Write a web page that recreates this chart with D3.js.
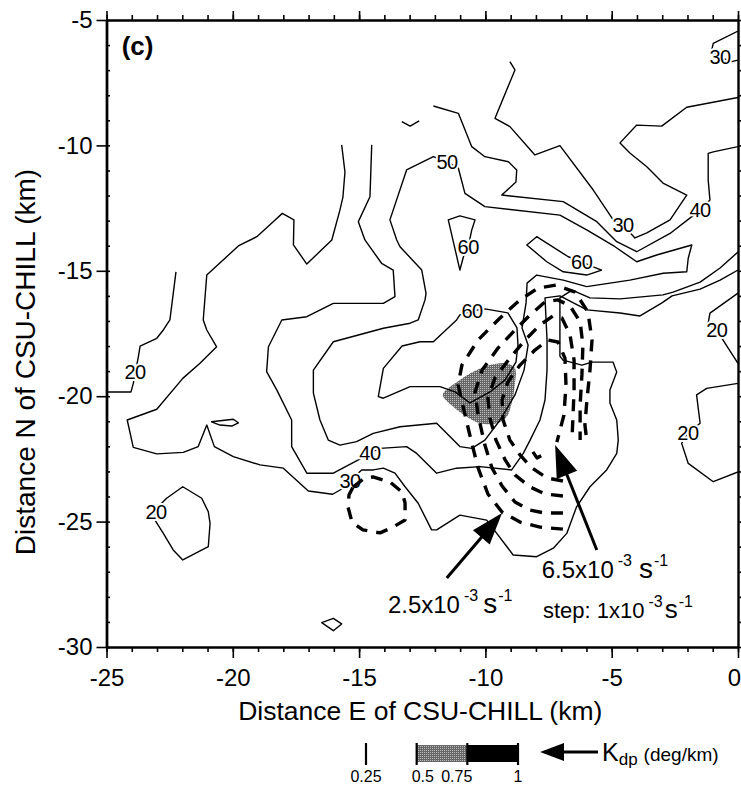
<!DOCTYPE html>
<html>
<head>
<meta charset="utf-8">
<script src="https://cdn.jsdelivr.net/npm/d3@7"></script>
<style>
  body { margin: 0; background: #fff; }
  svg { display: block; font-family: "Liberation Sans", Arial, Helvetica, sans-serif; }
</style>
</head>
<body>
<svg id="chart" width="741" height="786"></svg>
<script>
// ---------- axis ticks (km) ----------
const xTickValues = [-25, -20, -15, -10, -5, 0];
const xTickLabels = ["-25", "-20", "-15", "-10", "-5", "0"];
const yTickValues = [-30, -25, -20, -15, -10, -5];
const yTickLabels = ["-30", "-25", "-20", "-15", "-10", "-5"];
const xMinorTicks = d3.range(-25, 1, 1);
const yMinorTicks = d3.range(-30, -4, 1);

// ---------- reflectivity contours (dBZ), vertices in km E / km N ----------
const dbz20West = [[-25,-19.83],[-24.03,-19.83],[-23.94,-19.49],[-23.74,-18.43],[-23.67,-18.0],[-23.01,-17.69],[-22.75,-17.36],[-22.49,-16.96],[-22.25,-15.04]];
const dbz20South = [[-22.62,-24.07],[-21.98,-23.61],[-21.23,-24.07],[-20.97,-24.61],[-20.90,-25.07],[-20.97,-26.0],[-21.98,-26.53],[-22.36,-26.13],[-22.75,-25.47],[-23.08,-24.94],[-23.04,-24.5]];
const dbz20Cell = [[-20.84,-21.02],[-19.98,-20.92],[-19.78,-21.06],[-20.04,-21.19],[-20.51,-21.15]];
const dbz20Speck = [[-16.48,-29.03],[-16.02,-28.86],[-15.69,-29.08],[-16.02,-29.35]];
const dbzFragment = [[-13.31,-9.05],[-12.98,-9.23],[-12.62,-9.02]];
const dbz20EastA = [[0,-15.89],[-1.11,-16.69],[-1.18,-17.09],[-0.84,-17.36],[-0.51,-17.89],[0,-18.69]];
const dbz20EastB = [[0,-19.49],[-1.24,-19.69],[-1.64,-19.95],[-1.50,-21.08],[-1.98,-21.47],[-2.23,-21.88],[-1.97,-22.68],[-0.98,-23.41],[0,-23.02]];

const dbz30Main = [[-15.69,-9.98],[-15.56,-11.06],[-15.64,-12.06],[-15.76,-12.58],[-16.08,-13.77],[-17.07,-14.73],[-17.60,-13.97],[-17.58,-12.97],[-18.04,-12.71],[-18.40,-13.04],[-19.05,-13.64],[-19.78,-14.01],[-21.03,-15.17],[-21.17,-16.96],[-21.03,-17.36],[-20.64,-18.03],[-21.30,-18.69],[-21.98,-19.29],[-23.01,-20.52],[-24.18,-20.95],[-23.94,-22.04],[-23.01,-22.30],[-21.96,-22.24],[-21.37,-22.01],[-21.03,-21.15],[-20.73,-22.01],[-19.98,-22.41],[-18.92,-22.74],[-18.00,-22.87],[-17.01,-23.78],[-16.05,-23.91],[-15.63,-23.67],[-15.36,-23.38],[-14.90,-22.94],[-14.44,-22.94],[-14.04,-22.87],[-13.58,-23.07],[-13.18,-23.61],[-12.66,-24.27],[-12.13,-25.33],[-11.93,-25.33],[-11.01,-24.74],[-9.95,-24.94],[-9.55,-25.47],[-8.90,-26.33],[-7.97,-26.40],[-7.31,-26.06],[-6.78,-25.47],[-6.39,-24.41],[-5.86,-23.61],[-5.20,-22.94],[-4.80,-22.28],[-4.74,-21.75],[-4.80,-20.95],[-5.07,-20.27],[-5.07,-19.75],[-4.80,-19.04],[-4.95,-18.64],[-5.78,-18.64],[-6.18,-18.76],[-6.93,-18.56],[-7.05,-18.40],[-7.05,-16.08],[-6.57,-15.77],[-5.86,-16.08],[-4.67,-16.12],[-2.97,-15.96],[-2.57,-15.85],[-1.50,-15.45],[-0.71,-14.89],[0,-14.25]];
const dbz30North = [[-9.03,-6.66],[-8.83,-6.99],[-9.62,-8.92],[-9.03,-9.25],[-8.04,-10.38],[-7.05,-10.01],[-5.73,-11.78],[-4.94,-12.97],[-4.55,-13.17],[-4.08,-13.69],[-3.61,-13.49],[-2.69,-12.97],[-2.03,-11.98],[-2.97,-11.50],[-3.61,-10.85],[-4.28,-10.30],[-4.67,-9.90],[-4.01,-9.19],[-3.02,-9.23],[-2.03,-8.48],[0,-8.09]];
const dbz30Corner = [[0,-5.44],[-0.98,-5.93],[-1.04,-6.20],[-0.71,-6.48],[-0.25,-6.66],[0,-6.60]];

const dbz40West = [[-14.50,-9.98],[-14.57,-12.05],[-15.03,-13.04],[-14.77,-13.77],[-14.11,-14.70],[-13.65,-14.97],[-13.58,-16.03],[-14.04,-16.30],[-16.02,-16.30],[-17.07,-16.83],[-18.06,-16.96],[-18.59,-18.03],[-18.66,-19.02],[-18.26,-19.75],[-17.67,-20.95],[-17.67,-22.01],[-17.07,-23.07],[-16.02,-23.07],[-15.03,-22.54],[-14.57,-22.26],[-14.17,-22.08],[-13.12,-22.01],[-12.72,-22.28],[-11.93,-23.07],[-11.14,-22.87],[-10.21,-22.81],[-8.96,-22.94],[-8.50,-22.28],[-8.23,-21.75],[-7.84,-20.95],[-7.64,-20.15],[-7.56,-18.96],[-7.56,-17.76],[-7.64,-16.08],[-7.05,-16.00],[-5.98,-16.56],[-4.67,-16.68],[-3.88,-16.80],[-3.01,-16.28],[-2.61,-16.00],[-1.50,-15.73],[-0.71,-15.37],[0,-14.97]];
const dbz40North = [[-12.06,-8.43],[-11.07,-8.72],[-10.54,-10.05],[-10.02,-10.45],[-9.09,-10.65],[-8.76,-10.98],[-8.79,-11.46],[-9.35,-11.98],[-6.92,-12.24],[-5.59,-13.04],[-4.80,-13.84],[-4.01,-14.24],[-2.69,-13.51],[-1.83,-12.84],[-1.50,-12.58],[-1.11,-12.18],[-1.18,-11.38],[-1.18,-10.32],[-0.98,-10.26],[0,-10.05]];

const dbz50Ring = [[-11.07,-10.91],[-10.81,-11.91],[-10.02,-12.44],[-7.05,-12.78],[-5.99,-13.37],[-4.87,-14.04],[-4.01,-14.64],[-3.22,-14.37],[-1.83,-13.97],[-1.97,-14.50],[-2.03,-15.04],[-2.96,-15.10],[-4.28,-15.37],[-5.99,-15.63],[-6.92,-15.37],[-7.97,-15.17],[-8.35,-15.49],[-8.39,-16.28],[-8.55,-17.28],[-8.31,-17.96],[-8.47,-18.96],[-8.83,-19.95],[-9.42,-20.95],[-10.02,-21.75],[-10.54,-22.08],[-11.01,-22.01],[-11.93,-21.08],[-13.38,-21.22],[-14.44,-21.48],[-15.10,-21.81],[-15.76,-21.95],[-16.22,-21.75],[-16.55,-20.95],[-16.81,-19.88],[-16.81,-18.96],[-16.02,-17.83],[-14.04,-17.29],[-12.98,-17.09],[-12.66,-16.96],[-12.39,-16.16],[-12.35,-15.90],[-12.52,-14.97],[-13.38,-14.04],[-13.51,-13.77],[-13.78,-12.97],[-13.12,-10.98],[-12.06,-10.45],[-11.52,-10.66]];

const dbz60North = [[-11.47,-12.97],[-11.01,-12.81],[-10.41,-12.97],[-10.54,-13.37],[-10.68,-14.04],[-10.87,-14.44],[-11.01,-14.97]];
const dbz60Band = [[-8.36,-13.97],[-7.97,-13.64],[-6.72,-14.44],[-6.19,-14.64],[-5.73,-14.84],[-5.40,-14.97],[-5.99,-15.17],[-6.92,-15.04],[-7.57,-14.64]];
const dbz60Core = [[-13.30,-18.00],[-12.59,-17.83],[-12.06,-17.83],[-11.14,-16.96],[-11.01,-16.76],[-10.53,-16.60],[-10.02,-16.52],[-9.11,-16.68],[-8.75,-17.28],[-8.71,-17.96],[-8.79,-18.64],[-9.22,-19.35],[-9.82,-19.83],[-10.61,-20.27],[-11.20,-19.83],[-11.80,-19.62],[-12.98,-19.62],[-14.04,-20.08],[-14.24,-20.02],[-14.04,-18.89]];

// contour labels: value and position (km)
const contourLabelText = ["20","20","30","40","50","60","60","60","30","40","30","20","20"];
const contourLabelX = [-23.87,-23.04,-15.36,-14.57,-11.52,-10.68,-6.19,-10.53,-4.55,-1.50,-0.71,-0.84,-1.98];
const contourLabelY = [-19.04,-24.61,-23.38,-22.26,-10.66,-14.04,-14.64,-16.60,-13.17,-12.58,-6.48,-17.36,-21.47];

// ---------- horizontal shear contours (1e-3 s^-1), 2.5 .. 6.5 step 1 ----------
const shear25Loop = [[-15.24,-23.62],[-14.77,-23.26],[-14.45,-23.22],[-13.78,-23.42],[-13.30,-23.82],[-13.18,-24.26],[-13.18,-24.94],[-13.66,-25.22],[-14.17,-25.45],[-14.85,-25.33],[-15.28,-25.02],[-15.44,-24.42],[-15.40,-23.94]];
const shear25 = [[-6.93,-25.30],[-7.84,-25.22],[-8.63,-25.02],[-9.34,-24.62],[-9.90,-23.90],[-10.29,-22.86],[-10.57,-21.75],[-10.85,-20.55],[-11.08,-19.55],[-10.93,-18.76],[-10.29,-17.76],[-9.42,-16.88],[-8.63,-16.16],[-7.92,-15.69],[-7.21,-15.57],[-6.45,-15.85],[-5.94,-16.64],[-5.78,-17.76],[-5.86,-18.96],[-5.98,-20.15],[-6.06,-21.15],[-5.98,-21.83]];
const shear35 = [[-6.93,-24.66],[-7.64,-24.66],[-8.23,-24.54],[-8.83,-24.22],[-9.34,-23.58],[-9.74,-22.86],[-10.02,-21.95],[-10.29,-20.75],[-10.41,-19.83],[-10.13,-18.96],[-9.50,-18.08],[-8.83,-17.36],[-8.23,-16.76],[-7.64,-16.24],[-7.13,-16.16],[-6.65,-16.40],[-6.25,-17.04],[-6.14,-17.96],[-6.18,-19.15],[-6.25,-20.35],[-6.25,-21.75]];
const shear45 = [[-6.93,-23.98],[-7.64,-23.90],[-8.23,-23.62],[-8.83,-23.14],[-9.22,-22.54],[-9.58,-21.75],[-9.82,-20.87],[-9.90,-20.07],[-9.62,-19.27],[-9.03,-18.48],[-8.43,-17.76],[-7.84,-17.16],[-7.32,-16.80],[-6.97,-16.88],[-6.65,-17.56],[-6.49,-18.56],[-6.49,-19.75],[-6.53,-20.75],[-6.57,-21.67]];
const shear55 = [[-6.93,-23.38],[-7.56,-23.26],[-8.16,-22.86],[-8.63,-22.34],[-9.03,-21.75],[-9.30,-20.95],[-9.34,-20.15],[-9.11,-19.43],[-8.63,-18.76],[-8.04,-18.16],[-7.52,-17.76],[-7.13,-17.84],[-6.85,-18.48],[-6.81,-19.55],[-6.89,-20.75],[-7.17,-21.83]];
const shear65 = [[-8.12,-22.22],[-7.96,-22.46],[-7.72,-22.34]];

// ---------- specific differential phase patch (0.5-0.75 deg/km) ----------
const kdpPatch = [[-11.67,-19.88],[-11.01,-19.35],[-10.34,-18.96],[-9.82,-18.76],[-9.16,-18.69],[-8.83,-18.89],[-8.83,-19.49],[-8.96,-20.28],[-9.16,-20.82],[-9.55,-21.08],[-10.21,-21.08],[-10.74,-20.82],[-11.27,-20.42],[-11.67,-20.02]];

// ---------- annotation arrows (tail -> tip, km) ----------
const arrow25 = [[-11.53,-27.25],[-9.34,-24.66]];
const arrow65 = [[-5.59,-26.13],[-7.24,-21.95]];

// ---------- Kdp legend ----------
const kdpLegendValues = [0.25, 0.5, 0.75, 1];
const kdpLegendLabels = ["0.25", "0.5", "0.75", "1"];

// ======================================================================
const W = 741, H = 786;
const plot = { left: 106.5, right: 738, top: 20, bottom: 647 };
const x = d3.scaleLinear().domain([-25, 0]).range([plot.left, plot.right]);
const y = d3.scaleLinear().domain([-30, -5]).range([plot.bottom, plot.top]);

const svg = d3.select("#chart");
svg.append("rect").attr("width", W).attr("height", H).attr("fill", "#fff");

const defs = svg.append("defs");
defs.append("clipPath").attr("id", "plotClip")
  .append("rect").attr("x", plot.left).attr("y", plot.top)
  .attr("width", plot.right - plot.left).attr("height", plot.bottom - plot.top);
const stipple = defs.append("pattern").attr("id", "stipple")
  .attr("patternUnits", "userSpaceOnUse").attr("width", 2).attr("height", 2);
stipple.append("rect").attr("width", 2).attr("height", 2).attr("fill", "#666");
stipple.append("rect").attr("width", 1).attr("height", 1).attr("fill", "#bdbdbd");

const openLine = d3.line().x(d => x(d[0])).y(d => y(d[1]));
const closedLine = d3.line().x(d => x(d[0])).y(d => y(d[1])).curve(d3.curveLinearClosed);
const smoothClosed = d3.line().x(d => x(d[0])).y(d => y(d[1])).curve(d3.curveCatmullRomClosed.alpha(0.5));

const reflectivity = [
  { level: 20, pts: dbz20West, closed: false },
  { level: 20, pts: dbz20South, closed: true },
  { level: 20, pts: dbz20Cell, closed: true },
  { level: 20, pts: dbz20Speck, closed: true },
  { level: 30, pts: dbzFragment, closed: false },
  { level: 20, pts: dbz20EastA, closed: false },
  { level: 20, pts: dbz20EastB, closed: false },
  { level: 30, pts: dbz30Main, closed: false },
  { level: 30, pts: dbz30North, closed: false },
  { level: 30, pts: dbz30Corner, closed: false },
  { level: 40, pts: dbz40West, closed: false },
  { level: 40, pts: dbz40North, closed: false },
  { level: 50, pts: dbz50Ring, closed: true },
  { level: 60, pts: dbz60North, closed: true },
  { level: 60, pts: dbz60Band, closed: true },
  { level: 60, pts: dbz60Core, closed: true }
];
const shear = [
  { level: 2.5, pts: shear25Loop, closed: true },
  { level: 2.5, pts: shear25, closed: false },
  { level: 3.5, pts: shear35, closed: false },
  { level: 4.5, pts: shear45, closed: false },
  { level: 5.5, pts: shear55, closed: false },
  { level: 6.5, pts: shear65, closed: false }
];

const field = svg.append("g").attr("clip-path", "url(#plotClip)");

// Kdp shading
field.append("path").datum(kdpPatch)
  .attr("d", smoothClosed)
  .attr("fill", "url(#stipple)")
  .attr("stroke", "none");

// reflectivity contours
field.selectAll("path.dbz").data(reflectivity).enter().append("path")
  .attr("class", "dbz")
  .attr("d", d => (d.closed ? closedLine : openLine)(d.pts))
  .attr("fill", "none").attr("stroke", "#000")
  .attr("stroke-width", 1.4).attr("stroke-linejoin", "round");

// contour value labels
field.selectAll("text.clab").data(contourLabelText).enter().append("text")
  .attr("class", "clab")
  .attr("x", (d, i) => x(contourLabelX[i]))
  .attr("y", (d, i) => y(contourLabelY[i]))
  .attr("dy", "0.36em")
  .attr("text-anchor", "middle")
  .attr("font-size", 20)
  .attr("letter-spacing", -0.5)
  .attr("fill", "#000")
  .attr("stroke", "#fff").attr("stroke-width", 4).attr("paint-order", "stroke")
  .text(d => d);

// shear contours (thick dashes)
field.selectAll("path.shear").data(shear).enter().append("path")
  .attr("class", "shear")
  .attr("d", d => (d.closed ? closedLine : openLine)(d.pts))
  .attr("fill", "none").attr("stroke", "#000")
  .attr("stroke-width", 3.4).attr("stroke-dasharray", "12,9")
  .attr("stroke-linejoin", "round");

// ---------- annotation arrows ----------
function drawArrow(parent, seg, headLen, headHalf, width) {
  const x0 = x(seg[0][0]), y0 = y(seg[0][1]);
  const x1 = x(seg[1][0]), y1 = y(seg[1][1]);
  const len = Math.hypot(x1 - x0, y1 - y0);
  const ux = (x1 - x0) / len, uy = (y1 - y0) / len;
  const bx = x1 - ux * headLen, by = y1 - uy * headLen;
  parent.append("line").attr("x1", x0).attr("y1", y0).attr("x2", bx + ux * 2).attr("y2", by + uy * 2)
    .attr("stroke", "#000").attr("stroke-width", width);
  parent.append("path")
    .attr("d", `M${x1},${y1}L${bx - uy * headHalf},${by + ux * headHalf}L${bx + uy * headHalf},${by - ux * headHalf}Z`)
    .attr("fill", "#000");
}
const ann = svg.append("g");
drawArrow(ann, arrow25, 32, 11, 3);
drawArrow(ann, arrow65, 32, 11, 3);

function sciText(parent, px, py, lead, big, sup, sBig, gap) {
  const t = parent.append("text").attr("x", px).attr("y", py).attr("fill", "#000");
  t.append("tspan").attr("font-size", big).text(lead);
  t.append("tspan").attr("font-size", sup).attr("dx", 4).attr("dy", -big * 0.5).text("-3");
  t.append("tspan").attr("font-size", sBig).attr("dx", gap).attr("dy", big * 0.5).text("s");
  t.append("tspan").attr("font-size", sup).attr("dx", 1).attr("dy", -big * 0.5).text("-1");
  return t;
}
sciText(ann, x(-13.86), y(-28.64), "2.5x10", 24, 16, 28, 5);
sciText(ann, x(-7.77), y(-27.25), "6.5x10", 24, 16, 28, 7);
sciText(ann, x(-7.72), y(-28.84), "step: 1x10", 22, 16, 26, 2);

// panel tag
svg.append("text").attr("x", x(-24.4)).attr("y", y(-6.4))
  .attr("font-size", 26).attr("font-weight", "bold").text("(c)");

// ---------- axes ----------
function styleAxis(g, w) {
  g.select(".domain").attr("stroke-width", w).attr("stroke", "#000");
  g.selectAll(".tick line").attr("stroke", "#000").attr("stroke-width", 1.6);
  g.attr("font-family", null).attr("font-size", null);
}
// bottom
styleAxis(svg.append("g").attr("transform", `translate(0,${plot.bottom})`)
  .call(d3.axisBottom(x).tickValues(xMinorTicks).tickSize(5).tickSizeOuter(0).tickFormat("")), 2.2);
const xb = svg.append("g").attr("transform", `translate(0,${plot.bottom})`)
  .call(d3.axisBottom(x).tickValues(xTickValues).tickSize(11).tickSizeOuter(0).tickPadding(11)
    .tickFormat((d, i) => xTickLabels[i]));
styleAxis(xb, 2.2);
xb.selectAll(".tick text").attr("font-size", 24).attr("fill", "#000")
  .attr("dx", d => (d === 0 ? -4 : 0));
// top
styleAxis(svg.append("g").attr("transform", `translate(0,${plot.top})`)
  .call(d3.axisTop(x).tickValues(xMinorTicks).tickSize(5).tickSizeOuter(0).tickFormat("")), 1.8);
styleAxis(svg.append("g").attr("transform", `translate(0,${plot.top})`)
  .call(d3.axisTop(x).tickValues(xTickValues).tickSize(9).tickSizeOuter(0).tickFormat("")), 1.8);
// left: major outward with labels, minor inward
const yl = svg.append("g").attr("transform", `translate(${plot.left},0)`)
  .call(d3.axisLeft(y).tickValues(yTickValues).tickSize(10).tickSizeOuter(0).tickPadding(4)
    .tickFormat((d, i) => yTickLabels[i]));
styleAxis(yl, 2.4);
yl.selectAll(".tick text").attr("font-size", 24).attr("fill", "#000");
styleAxis(svg.append("g").attr("transform", `translate(${plot.left},0)`)
  .call(d3.axisRight(y).tickValues(yMinorTicks).tickSize(3.5).tickSizeOuter(0).tickFormat("")), 2.4);
// right
styleAxis(svg.append("g").attr("transform", `translate(${plot.right},0)`)
  .call(d3.axisRight(y).tickValues(yMinorTicks).tickSize(4).tickSizeOuter(0).tickFormat("")), 2.4);

// axis titles
svg.append("text").attr("x", (plot.left + plot.right) / 2 - 2).attr("y", 720)
  .attr("text-anchor", "middle").attr("font-size", 26.5).attr("fill", "#000")
  .text("Distance E of CSU-CHILL (km)");
svg.append("text").attr("transform", `translate(35,362) rotate(-90)`)
  .attr("text-anchor", "middle").attr("font-size", 28).attr("fill", "#000")
  .text("Distance N of CSU-CHILL (km)");

// ---------- Kdp legend ----------
const kx = d3.scaleLinear().domain([0.25, 1]).range([366, 518]);
const leg = svg.append("g");
const barTop = 745, barBot = 762;
leg.append("rect").attr("x", kx(0.5)).attr("y", barTop).attr("width", kx(0.75) - kx(0.5)).attr("height", barBot - barTop)
  .attr("fill", "url(#stipple)");
leg.append("rect").attr("x", kx(0.75)).attr("y", barTop).attr("width", kx(1) - kx(0.75)).attr("height", barBot - barTop)
  .attr("fill", "#000");
leg.selectAll("line.kt").data(kdpLegendValues).enter().append("line")
  .attr("x1", d => kx(d)).attr("x2", d => kx(d))
  .attr("y1", barTop - 2).attr("y2", barBot + 3)
  .attr("stroke", "#000").attr("stroke-width", 2.2);
const legAnchor = ["middle", "start", "end", "middle"];
leg.selectAll("text.kl").data(kdpLegendLabels).enter().append("text")
  .attr("x", (d, i) => kx(kdpLegendValues[i]) + (i === 1 ? -5 : i === 2 ? 5 : 0))
  .attr("y", 782).attr("text-anchor", (d, i) => legAnchor[i])
  .attr("font-size", 16).attr("fill", "#000").text(d => d);
// legend pointer arrow
leg.append("line").attr("x1", 598).attr("y1", 752).attr("x2", 560).attr("y2", 752)
  .attr("stroke", "#000").attr("stroke-width", 3);
leg.append("path").attr("d", "M540,752L564,743L564,761Z").attr("fill", "#000");
const kt = leg.append("text").attr("x", 602).attr("y", 761).attr("fill", "#000");
kt.append("tspan").attr("font-size", 25).text("K");
kt.append("tspan").attr("font-size", 17).attr("dy", 4).text("dp");
kt.append("tspan").attr("font-size", 19).attr("dx", 6).attr("dy", -4).text("(deg/km)");
</script>
</body>
</html>
